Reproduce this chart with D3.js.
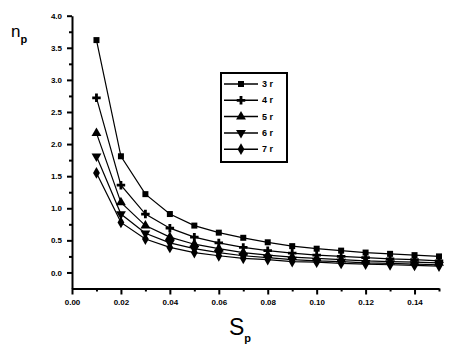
<!DOCTYPE html>
<html>
<head>
<meta charset="utf-8">
<script src="https://cdn.jsdelivr.net/npm/d3@7"></script>
<style>
  body { margin: 0; background: #fff; }
  svg { display: block; }
</style>
</head>
<body>
<svg id="drawing_region"></svg>
<script>
// values
const sp = [0.01, 0.02, 0.03, 0.04, 0.05, 0.06, 0.07, 0.08, 0.09, 0.10, 0.11, 0.12, 0.13, 0.14, 0.15];
const names = ["3 r", "4 r", "5 r", "6 r", "7 r"];
const r3 = [3.62, 1.81, 1.22, 0.91, 0.73, 0.62, 0.54, 0.47, 0.41, 0.37, 0.34, 0.31, 0.29, 0.27, 0.25];
const r4 = [2.72, 1.36, 0.91, 0.69, 0.55, 0.46, 0.39, 0.34, 0.30, 0.27, 0.25, 0.23, 0.21, 0.20, 0.18];
const r5 = [2.17, 1.09, 0.73, 0.55, 0.44, 0.37, 0.31, 0.27, 0.24, 0.22, 0.20, 0.18, 0.17, 0.16, 0.15];
const r6 = [1.81, 0.91, 0.61, 0.46, 0.37, 0.31, 0.26, 0.23, 0.20, 0.18, 0.17, 0.15, 0.14, 0.13, 0.12];
const r7 = [1.55, 0.78, 0.52, 0.39, 0.31, 0.26, 0.22, 0.20, 0.17, 0.16, 0.14, 0.13, 0.12, 0.11, 0.10];
const xTicks = [0, 0.02, 0.04, 0.06, 0.08, 0.10, 0.12, 0.14];
const xTickLabels = ["0.00", "0.02", "0.04", "0.06", "0.08", "0.10", "0.12", "0.14"];
const yTicks = [0, 0.5, 1.0, 1.5, 2.0, 2.5, 3.0, 3.5, 4.0];

const series = [r3, r4, r5, r6, r7];
const symbols = [d3.symbolSquare, d3.symbolCross, d3.symbolTriangle, d3.symbolTriangle, d3.symbolDiamond];

const width = 467, height = 348;
const svg = d3.select('#drawing_region')
    .attr('width', width)
    .attr('height', height);

const x = d3.scaleLinear().domain([0, 0.15]).range([72, 439]);
const y = d3.scaleLinear().domain([-0.25, 4.0]).range([288.5, 15.7]);

const font = "'Liberation Sans', Arial, sans-serif";

// y axis
const yAxis = svg.append('g')
    .attr('transform', `translate(${x(0)},0)`)
    .call(d3.axisLeft(y).tickValues(yTicks).tickSize(5).tickSizeOuter(0)
        .tickFormat(d3.format('.1f')));
svg.append('g')
    .attr('transform', `translate(${x(0)},0)`)
    .call(d3.axisLeft(y).tickValues(d3.range(0.25, 4, 0.5)).tickSize(3).tickFormat(''))
    .select('.domain').remove();

// x axis
const xAxis = svg.append('g')
    .attr('transform', `translate(0,${y(-0.25)})`)
    .call(d3.axisBottom(x).tickValues(xTicks).tickSize(6).tickSizeOuter(0)
        .tickFormat((d, i) => xTickLabels[i]));
svg.append('g')
    .attr('transform', `translate(0,${y(-0.25)})`)
    .call(d3.axisBottom(x).tickValues(d3.range(0.01, 0.16, 0.02)).tickSize(3).tickFormat(''))
    .select('.domain').remove();

svg.selectAll('.domain').attr('stroke', '#000').attr('stroke-width', 2);
svg.selectAll('.tick line').attr('stroke', '#000').attr('stroke-width', 2);
svg.selectAll('.tick text')
    .attr('font-family', font)
    .attr('font-size', 8)
    .attr('font-weight', 'bold')
    .attr('fill', '#000');
yAxis.selectAll('.tick text').attr('x', -10);
xAxis.selectAll('.tick text').attr('y', 11);

// axis titles
const yt = svg.append('text')
    .attr('x', 11).attr('y', 37)
    .attr('font-family', font).attr('font-size', 17).attr('fill', '#000');
yt.append('tspan').text('n');
yt.append('tspan').attr('font-size', 11).attr('font-weight', 'bold').attr('dy', 6).text('p');

const xt = svg.append('text')
    .attr('x', 229).attr('y', 335)
    .attr('font-family', font).attr('font-size', 23).attr('fill', '#000');
xt.append('tspan').text('S');
xt.append('tspan').attr('font-size', 11).attr('font-weight', 'bold').attr('dy', 7).text('p');

// lines and markers
const line = d3.line().x((d, i) => x(sp[i])).y(d => y(d));
const symbolSizes = [36, 40, 42, 42, 40];

series.forEach((vals, k) => {
    svg.append('path')
        .datum(vals)
        .attr('d', line)
        .attr('fill', 'none')
        .attr('stroke', '#000')
        .attr('stroke-width', 1.2);

    svg.selectAll(`.m${k}`)
        .data(vals)
        .enter()
        .append('path')
        .attr('class', `m${k}`)
        .attr('d', d3.symbol().type(symbols[k]).size(symbolSizes[k]))
        .attr('transform', (d, i) => `translate(${x(sp[i])},${y(d)})` + (k === 3 ? ' rotate(180)' : ''))
        .attr('fill', '#000');
});

// legend
const legend = svg.append('g');
legend.append('rect')
    .attr('x', 221).attr('y', 73)
    .attr('width', 66).attr('height', 89)
    .attr('fill', 'none')
    .attr('stroke', '#000')
    .attr('stroke-width', 2);

const rows = legend.selectAll('.row')
    .data(names)
    .enter()
    .append('g')
    .attr('class', 'row')
    .attr('transform', (d, i) => `translate(0,${84 + i * 16.3})`);

rows.append('line')
    .attr('x1', 224).attr('x2', 258)
    .attr('stroke', '#000').attr('stroke-width', 1.5);
rows.append('path')
    .attr('d', (d, i) => d3.symbol().type(symbols[i]).size(symbolSizes[i])())
    .attr('transform', (d, i) => `translate(241,0)` + (i === 3 ? ' rotate(180)' : ''))
    .attr('fill', '#000');
rows.append('text')
    .attr('x', 262).attr('y', 3)
    .attr('font-family', font).attr('font-size', 9).attr('font-weight', 'bold')
    .attr('fill', '#000')
    .text(d => d);
</script>
</body>
</html>
